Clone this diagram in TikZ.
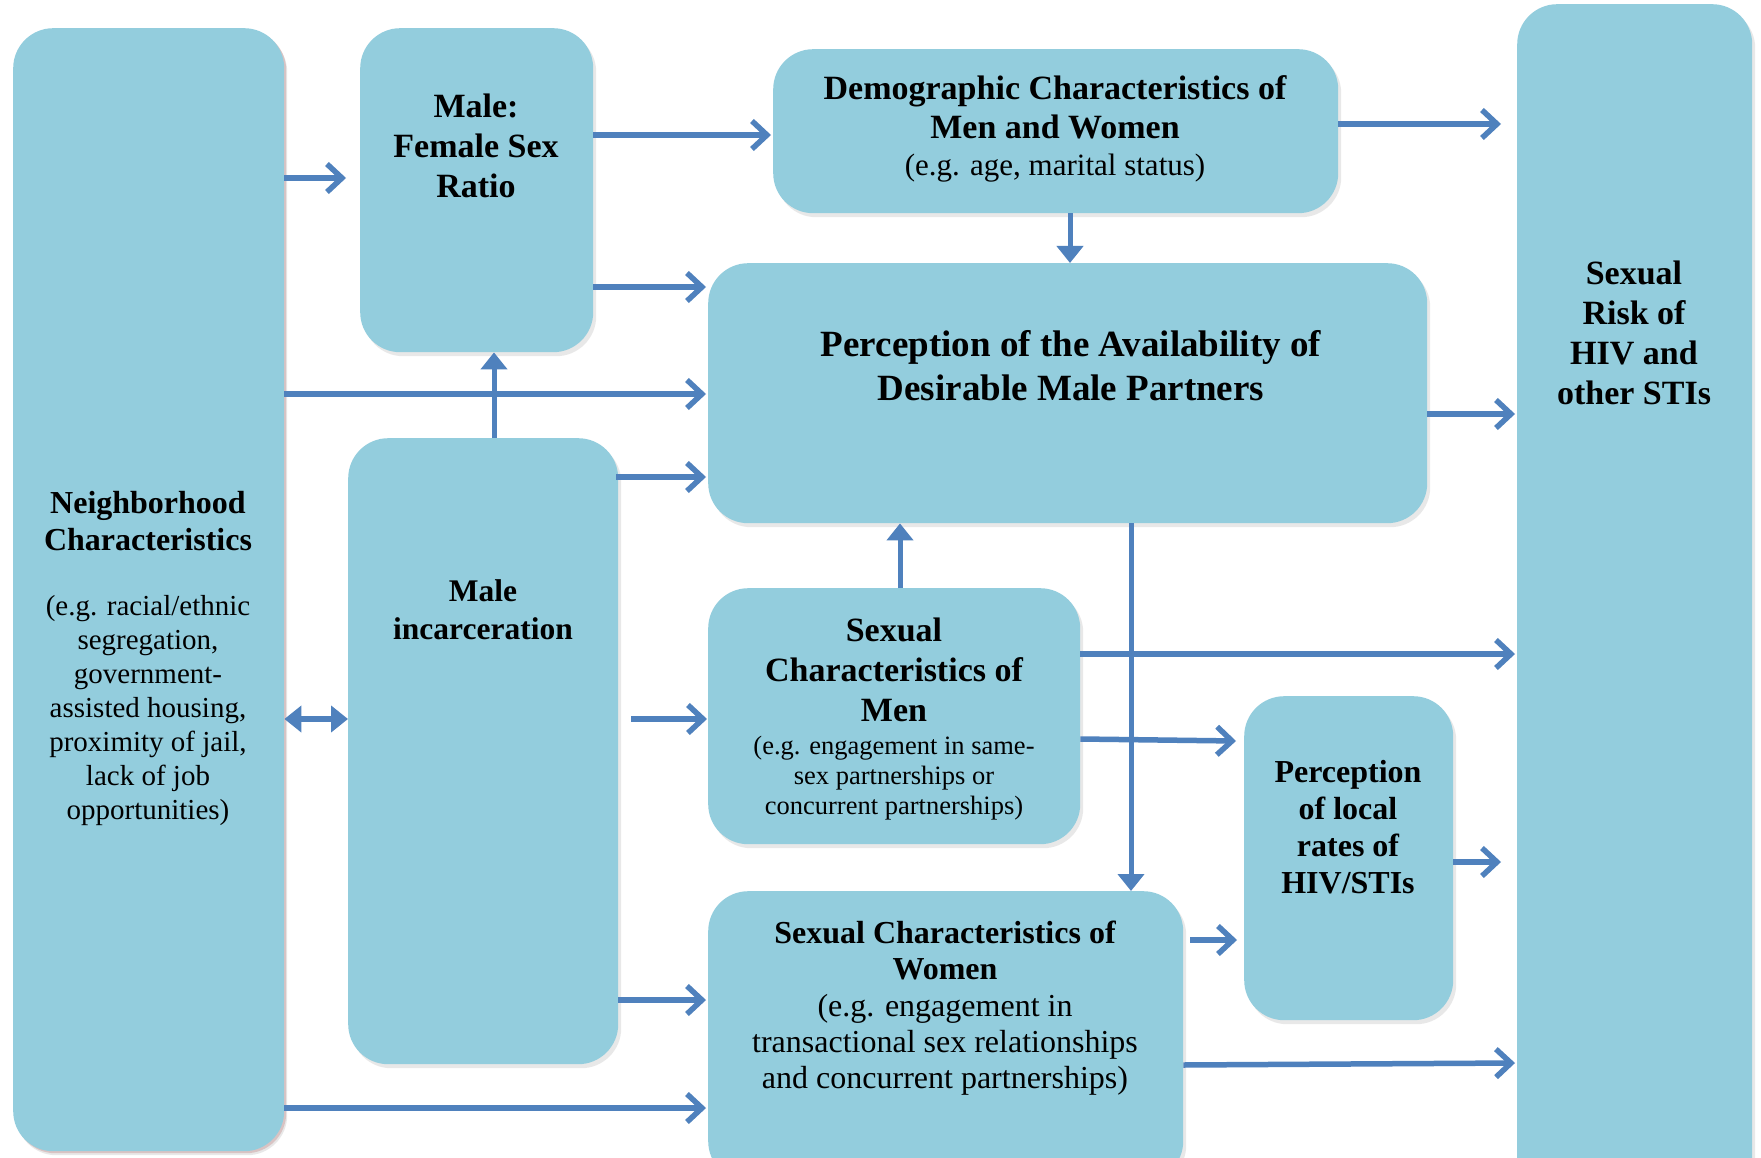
\documentclass[tikz,border=0pt]{standalone}
\usepackage{fontspec}
\setmainfont{Liberation Serif}
\usetikzlibrary{arrows.meta,shadows,calc}
\definecolor{boxc}{RGB}{147,205,221}
\definecolor{arrc}{RGB}{79,129,189}
\definecolor{pinkshadow}{RGB}{200,150,150}
\tikzset{
  box/.style={rectangle, fill=boxc, draw=none, rounded corners=40pt, anchor=north west, inner sep=0pt,
    drop shadow={shadow xshift=3pt, shadow yshift=-4pt, opacity=0.15, fill=black!60}},
  nbbox/.style={box, drop shadow={shadow xshift=2pt, shadow yshift=-2pt, opacity=0.45, fill=pinkshadow}},
  txt/.style={align=center, inner sep=0pt, text=black},
  arr/.style={draw=arrc, line width=5.5pt, -{Straight Barb[length=15pt,width=28pt,line width=5.5pt]}},
  tarr/.style={draw=arrc, line width=5pt, -{Triangle[length=17pt,width=26pt]}},
  dtarr/.style={draw=arrc, line width=5.5pt, {Triangle[length=17pt,width=26pt]}-{Triangle[length=17pt,width=26pt]}},
}
\newcommand{\fs}[2]{\fontsize{#1}{#2}\selectfont}
\begin{document}
\begin{tikzpicture}[x=1pt,y=-1pt]
\useasboundingbox (0,0) rectangle (1761,1158);
\fill[white] (0,0) rectangle (1761,1158);

% boxes
\node[nbbox, minimum width=271pt, minimum height=1123pt] (nb) at (13,28) {};
\node[box, minimum width=233pt, minimum height=324pt] (mfr) at (360,28) {};
\node[box, minimum width=565pt, minimum height=164pt] (demo) at (773,49) {};
\node[box, minimum width=719pt, minimum height=260pt] (perc) at (708,263) {};
\node[box, minimum width=270pt, minimum height=626pt] (inc) at (348,438) {};
\node[box, minimum width=372pt, minimum height=256pt] (men) at (708,588) {};
\node[box, minimum width=209pt, minimum height=324pt] (loc) at (1244,696) {};
\node[box, minimum width=475pt, minimum height=290pt] (wom) at (708,891) {};
\node[box, minimum width=235pt, minimum height=1200pt] (risk) at (1517,4) {};

% texts
\node[txt, font=\bfseries\fs{32}{37}] (nb-t) at (148,521) {Neighborhood\\Characteristics};
\node[txt, font=\fs{29}{34}] (nb-s) at (148,711) {(e.g. racial/ethnic\\segregation,\\government-\\assisted housing,\\proximity of jail,\\lack of job\\opportunities)};
\node[txt, font=\bfseries\fs{34}{40}] (mfr-t) at (476,146) {Male:\\Female Sex\\Ratio};
\node[txt, font=\bfseries\fs{34}{39}] (demo-t) at (1055,107) {Demographic Characteristics of\\Men and Women};
\node[txt, font=\fs{31}{36}] (demo-s) at (1055,168) {(e.g. age, marital status)};
\node[txt, font=\bfseries\fs{37}{44}] (perc-t) at (1071,366) {Perception of the Availability of\\Desirable Male Partners};
\node[txt, font=\bfseries\fs{31.5}{38}] (inc-t) at (483,610) {Male\\incarceration};
\node[txt, font=\bfseries\fs{34}{40}] (men-t) at (894,670) {Sexual\\Characteristics of\\Men};
\node[txt, font=\fs{26.5}{30}] (men-s) at (894,778) {(e.g. engagement in same-\\sex partnerships or\\concurrent partnerships)};
\node[txt, font=\bfseries\fs{32}{37}] (loc-t) at (1348,827) {Perception\\of local\\rates of\\HIV/STIs};
\node[txt, font=\bfseries\fs{32}{36}] (wom-t) at (945,950) {Sexual Characteristics of\\Women};
\node[txt, font=\fs{32}{36}] (wom-s) at (945,1045) {(e.g. engagement in\\transactional sex relationships\\and concurrent partnerships)};
\node[txt, font=\bfseries\fs{34}{40}] (risk-t) at (1634,333) {Sexual\\Risk of\\HIV and\\other STIs};

% connectors
\draw[arr] (nb.east |- 0,178) -- ([xshift=-14pt]mfr.west |- 0,178);
\draw[arr] (mfr.east |- 0,135) -- ([xshift=-2pt]demo.west |- 0,135);
\draw[arr] (mfr.east |- 0,287) -- ([xshift=-2pt]perc.west |- 0,287);
\draw[arr] (nb.east |- 0,394) -- ([xshift=-2pt]perc.west |- 0,394);
\draw[tarr] (inc.north -| 494,0) -- (mfr.south -| 494,0);
\draw[arr] ([xshift=-2pt]inc.east |- 0,477) -- ([xshift=-2pt]perc.west |- 0,477);
\draw[tarr] (demo.south -| 1070,0) -- (perc.north -| 1070,0);
\draw[arr] (demo.east |- 0,124) -- ([xshift=-16pt]risk.west |- 0,124);
\draw[arr] (perc.east |- 0,414) -- ([xshift=-2pt]risk.west |- 0,414);
\draw[tarr] (men.north -| 900,0) -- (perc.south -| 900,0);
\draw[tarr] (perc.south -| 1131,0) -- (wom.north -| 1131,0);
\draw[dtarr] (nb.east |- 0,719) -- (inc.west |- 0,719);
\draw[arr] ([xshift=13pt]inc.east |- 0,719) -- ([xshift=-1pt]men.west |- 0,719);
\draw[arr] (men.east |- 0,654) -- ([xshift=-2pt]risk.west |- 0,654);
\draw[arr] (men.east |- 0,739) -- ([xshift=-8pt]loc.west |- 0,741);
\draw[arr] (loc.east |- 0,862) -- ([xshift=-16pt]risk.west |- 0,862);
\draw[arr] ([xshift=7pt]wom.east |- 0,940) -- ([xshift=-7pt]loc.west |- 0,940);
\draw[arr] (wom.east |- 0,1065) -- ([xshift=-2pt]risk.west |- 0,1063);
\draw[arr] (inc.east |- 0,1000) -- ([xshift=-2pt]wom.west |- 0,1000);
\draw[arr] (nb.east |- 0,1108) -- ([xshift=-2pt]wom.west |- 0,1108);
\end{tikzpicture}
\end{document}
